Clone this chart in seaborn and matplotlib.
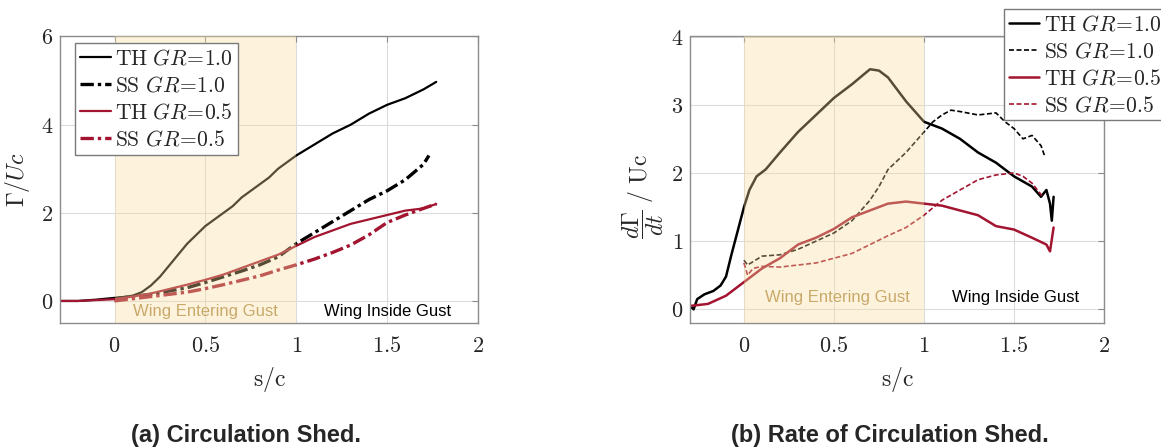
import numpy as np
import pandas as pd
import matplotlib
matplotlib.use("Agg")
import matplotlib.pyplot as plt
import seaborn as sns

# ---------------- data ----------------
# (a) Circulation shed  Gamma/Uc  vs s/c
a_th10_x = [-0.3, -0.2, -0.1, 0.0, 0.05, 0.1, 0.15, 0.2, 0.25, 0.3, 0.35, 0.4, 0.45, 0.5, 0.55, 0.6, 0.65,
            0.7, 0.75, 0.8, 0.85, 0.9, 0.95, 1.0, 1.1, 1.2, 1.3, 1.4, 1.5, 1.6, 1.7, 1.77]
a_th10_y = [0.0, 0.0, 0.03, 0.07, 0.09, 0.12, 0.2, 0.35, 0.55, 0.8, 1.05, 1.3, 1.5, 1.7, 1.85, 2.0, 2.15,
            2.35, 2.5, 2.65, 2.8, 3.0, 3.15, 3.3, 3.55, 3.8, 4.0, 4.25, 4.45, 4.6, 4.8, 4.97]
a_ss10_x = [0.0, 0.2, 0.4, 0.5, 0.6, 0.7, 0.8, 0.9, 1.0, 1.1, 1.2, 1.3, 1.4, 1.5, 1.6, 1.7, 1.73]
a_ss10_y = [0.05, 0.15, 0.3, 0.42, 0.55, 0.68, 0.82, 1.0, 1.3, 1.55, 1.8, 2.05, 2.3, 2.5, 2.75, 3.1, 3.3]
a_th05_x = [-0.3, -0.2, -0.1, 0.0, 0.1, 0.2, 0.3, 0.4, 0.5, 0.6, 0.7, 0.8, 0.9, 1.0, 1.1, 1.2, 1.3,
            1.4, 1.5, 1.6, 1.7, 1.77]
a_th05_y = [0.0, 0.0, 0.02, 0.04, 0.1, 0.17, 0.27, 0.37, 0.48, 0.6, 0.75, 0.9, 1.05, 1.25, 1.45, 1.6, 1.75,
            1.85, 1.95, 2.05, 2.1, 2.2]
a_ss05_x = [0.0, 0.2, 0.4, 0.5, 0.6, 0.7, 0.8, 0.9, 1.0, 1.1, 1.2, 1.3, 1.4, 1.5, 1.6, 1.7, 1.77]
a_ss05_y = [0.0, 0.1, 0.2, 0.28, 0.37, 0.47, 0.57, 0.7, 0.82, 0.95, 1.1, 1.27, 1.5, 1.78, 1.95, 2.1, 2.2]

# (b) Rate of circulation shed  (dGamma/dt)/Uc  vs s/c
b_th10_x = [-0.3, -0.28, -0.26, -0.22, -0.17, -0.13, -0.1, -0.07, -0.04, -0.02, 0.0, 0.03, 0.07, 0.12,
            0.2, 0.3, 0.4, 0.5, 0.6, 0.7, 0.75, 0.8, 0.9, 1.0, 1.1, 1.2, 1.3, 1.4, 1.5, 1.6, 1.65,
            1.68, 1.7, 1.71, 1.72]
b_th10_y = [0.05, 0.0, 0.15, 0.22, 0.27, 0.35, 0.48, 0.8, 1.1, 1.3, 1.5, 1.75, 1.95, 2.05,
            2.3, 2.6, 2.85, 3.1, 3.3, 3.52, 3.5, 3.4, 3.05, 2.75, 2.65, 2.5, 2.3, 2.15, 1.95, 1.8, 1.65,
            1.75, 1.55, 1.3, 1.65]
b_ss10_x = [0.0, 0.02, 0.1, 0.2, 0.3, 0.4, 0.5, 0.6, 0.65, 0.7, 0.75, 0.8, 0.9, 1.0, 1.05, 1.1, 1.15,
            1.2, 1.3, 1.4, 1.45, 1.5, 1.55, 1.6, 1.65, 1.67]
b_ss10_y = [0.72, 0.65, 0.78, 0.8, 0.88, 1.0, 1.12, 1.3, 1.45, 1.6, 1.8, 2.05, 2.3, 2.6, 2.75, 2.85, 2.92,
            2.9, 2.85, 2.88, 2.75, 2.65, 2.5, 2.55, 2.4, 2.25]
b_th05_x = [-0.3, -0.2, -0.1, 0.0, 0.1, 0.2, 0.3, 0.4, 0.5, 0.6, 0.7, 0.8, 0.9, 1.0, 1.1, 1.2, 1.3,
            1.4, 1.5, 1.6, 1.68, 1.7, 1.72]
b_th05_y = [0.05, 0.08, 0.2, 0.4, 0.6, 0.75, 0.95, 1.05, 1.18, 1.35, 1.45, 1.55, 1.58, 1.55, 1.52, 1.45, 1.38,
            1.22, 1.17, 1.05, 0.95, 0.85, 1.2]
b_ss05_x = [0.0, 0.02, 0.05, 0.1, 0.2, 0.3, 0.4, 0.5, 0.6, 0.7, 0.8, 0.9, 1.0, 1.1, 1.2, 1.3, 1.4, 1.5,
            1.55, 1.6, 1.66]
b_ss05_y = [0.68, 0.5, 0.6, 0.63, 0.62, 0.65, 0.68, 0.75, 0.82, 0.95, 1.08, 1.2, 1.38, 1.6, 1.75, 1.9,
            1.97, 2.0, 1.95, 1.85, 1.65]

series_labels = [r"$\mathrm{TH}\ GR\!=\!1.0$", r"$\mathrm{SS}\ GR\!=\!1.0$",
                 r"$\mathrm{TH}\ GR\!=\!0.5$", r"$\mathrm{SS}\ GR\!=\!0.5$"]
xtick_vals = [0, 0.5, 1, 1.5, 2]
xtick_labels = ["0", "0.5", "1", "1.5", "2"]
a_ytick_vals = [0, 2, 4, 6]
b_ytick_vals = [0, 1, 2, 3, 4]
region_labels = ["Wing Entering Gust", "Wing Inside Gust"]
captions = ["(a) Circulation Shed.", "(b) Rate of Circulation Shed."]

# ---------------- style ----------------
sns.set_style("white")
plt.rcParams["mathtext.fontset"] = "cm"
plt.rcParams["font.family"] = ["DejaVu Sans"]

BLACK = "#000000"
RED = "#A2142F"
SHADE = (0.98, 0.87, 0.62)
TAN = "#C9A96A"
SPINE = "#8C8C8C"
GRID = "#DCDCDC"

fig = plt.figure(figsize=(11.61, 4.48), dpi=100)
axA = fig.add_axes([60 / 1161, 1 - 323 / 448, 418 / 1161, 286.5 / 448])
axB = fig.add_axes([690 / 1161, 1 - 323 / 448, 414 / 1161, 286.5 / 448])


def draw(ax, data, styles):
    for (x, y), lab, (col, ls, lw) in zip(data, series_labels, styles):
        df = pd.DataFrame({"s": x, "v": y})
        sns.lineplot(data=df, x="s", y="v", ax=ax, color=col, linestyle=ls, linewidth=lw,
                     label=lab, zorder=2, legend=False)


draw(axA, [(a_th10_x, a_th10_y), (a_ss10_x, a_ss10_y), (a_th05_x, a_th05_y), (a_ss05_x, a_ss05_y)],
     [(BLACK, "-", 1.6), (BLACK, (0, (4, 1.2, 1, 1.2)), 2.4), (RED, "-", 1.6),
      (RED, (0, (4, 1.2, 1, 1.2)), 2.4)])
draw(axB, [(b_th10_x, b_th10_y), (b_ss10_x, b_ss10_y), (b_th05_x, b_th05_y), (b_ss05_x, b_ss05_y)],
     [(BLACK, "-", 1.8), (BLACK, (0, (3, 1.5)), 1.2), (RED, "-", 1.8), (RED, (0, (3, 1.5)), 1.2)])

for ax, ylim, yt in [(axA, (-0.5, 6), a_ytick_vals), (axB, (-0.2, 4), b_ytick_vals)]:
    ax.set_xlim(-0.3, 2)
    ax.set_ylim(*ylim)
    ax.set_xticks(xtick_vals, labels=[f"${t}$" for t in xtick_labels])
    ax.set_yticks(yt, labels=[f"${t}$" for t in yt])
    ax.grid(True, color=GRID, linewidth=0.8, zorder=0)
    ax.set_axisbelow(True)
    for sp in ax.spines.values():
        sp.set_color(SPINE)
        sp.set_linewidth(1.0)
        sp.set_visible(True)
    ax.tick_params(axis="both", which="both", direction="in", top=True, right=True,
                   length=4, width=0.8, color=SPINE, labelsize=16, labelcolor="#262626")
    ax.tick_params(axis="x", pad=9)
    ax.tick_params(axis="y", pad=5)
    ax.axvspan(0, 1, color=SHADE, alpha=0.35, lw=0, zorder=3)
    ax.set_xlabel(r"$\mathrm{s/c}$", fontsize=17, color="#262626")
    ax.xaxis.set_label_coords(0.5, -0.145)

axA.text(0.5, -0.23, region_labels[0], ha="center", va="center", color=TAN, fontsize=12,
         family="Liberation Sans", zorder=4)
axA.text(1.5, -0.23, region_labels[1], ha="center", va="center", color="black", fontsize=12,
         family="Liberation Sans", zorder=4)
axB.text(0.52, 0.175, region_labels[0], ha="center", va="center", color=TAN, fontsize=12,
         family="Liberation Sans", zorder=4)
axB.text(1.51, 0.175, region_labels[1], ha="center", va="center", color="black", fontsize=12,
         family="Liberation Sans", zorder=4)

axA.set_ylabel(r"$\Gamma/Uc$", fontsize=17, color="#262626")
axA.yaxis.set_label_coords(-0.067, 0.5)
axB.set_ylabel(r"$\dfrac{d\Gamma}{dt}\ /\ \mathrm{Uc}$", fontsize=17, color="#262626")
axB.yaxis.set_label_coords(-0.058, 0.44)

for ax, anchor in [(axA, (0.036, 0.977)), (axB, (0.758, 1.096))]:
    h, l = ax.get_legend_handles_labels()
    leg = ax.legend(h, l, loc="upper left", bbox_to_anchor=anchor, borderaxespad=0,
                    fontsize=15.5, frameon=True, fancybox=False, framealpha=1, edgecolor="#7a7a7a",
                    handlelength=1.4, handletextpad=0.2, labelspacing=0.32, borderpad=0.25)
    leg.get_frame().set_linewidth(1.0)
    leg.set_zorder(10)

fig.text(246 / 1161, 1 - 435 / 448, captions[0], ha="center", va="center", fontsize=17,
         fontweight="bold", family="Liberation Sans")
fig.text(890 / 1161, 1 - 435 / 448, captions[1], ha="center", va="center", fontsize=17,
         fontweight="bold", family="Liberation Sans")

fig.savefig("out.png", dpi=100)
